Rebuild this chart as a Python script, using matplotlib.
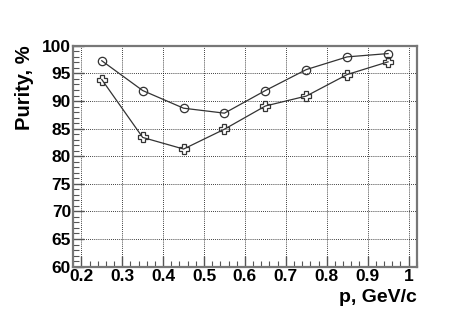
import numpy as np
import matplotlib.pyplot as plt
from matplotlib.ticker import MultipleLocator

# momentum bins, GeV/c
p = [0.25, 0.35, 0.45, 0.55, 0.65, 0.75, 0.85, 0.95]
# purity, %
purity_circle = [97.3, 91.9, 88.7, 87.8, 91.9, 95.7, 98.0, 98.6]
purity_cross = [93.9, 83.4, 81.3, 84.9, 89.1, 90.9, 94.8, 97.1]

plt.rcParams['font.family'] = ['Liberation Sans', 'DejaVu Sans']
plt.rcParams['font.weight'] = 'bold'

fig = plt.figure(figsize=(4.63, 3.14), dpi=100)
ax = fig.add_axes([0.158, 0.151, 0.742, 0.703])

line_col = '#333333'
ax.plot(p, purity_circle, color=line_col, lw=0.9, marker='o', ms=6,
        mfc='none', mec=line_col, mew=0.9)
ax.plot(p, purity_cross, color=line_col, lw=0.9, marker='P', ms=7,
        mfc='none', mec=line_col, mew=0.9)

ax.set_xlim(0.18, 1.02)
ax.set_ylim(60, 100)
ax.xaxis.set_major_locator(MultipleLocator(0.1))
ax.xaxis.set_minor_locator(MultipleLocator(0.02))
ax.yaxis.set_major_locator(MultipleLocator(5))
ax.yaxis.set_minor_locator(MultipleLocator(1))
ax.set_xticks(np.arange(0.2, 1.01, 0.1))
ax.set_xticklabels(['0.2', '0.3', '0.4', '0.5', '0.6', '0.7', '0.8', '0.9', '1'])

ax.grid(True, which='major', color='black', ls=(0, (1, 1.5)), lw=0.6)
ax.tick_params(which='both', direction='in', top=False, right=False,
               color='#555555', labelsize=12.5, pad=1.5)
ax.tick_params(which='major', length=8, width=1)
ax.tick_params(which='minor', length=4, width=0.8)
for s in ax.spines.values():
    s.set_color('#777777')
    s.set_linewidth(1.6)

ax.set_ylabel('Purity, %', fontsize=14.5, fontweight='bold')
ax.yaxis.set_label_coords(-0.115, 1.0)
ax.yaxis.label.set_ha('right')
ax.set_xlabel('p, GeV/c', fontsize=14, fontweight='bold')
ax.xaxis.set_label_coords(1.0, -0.1)
ax.xaxis.label.set_ha('right')

plt.savefig('out.png', dpi=100)
plt.close()
